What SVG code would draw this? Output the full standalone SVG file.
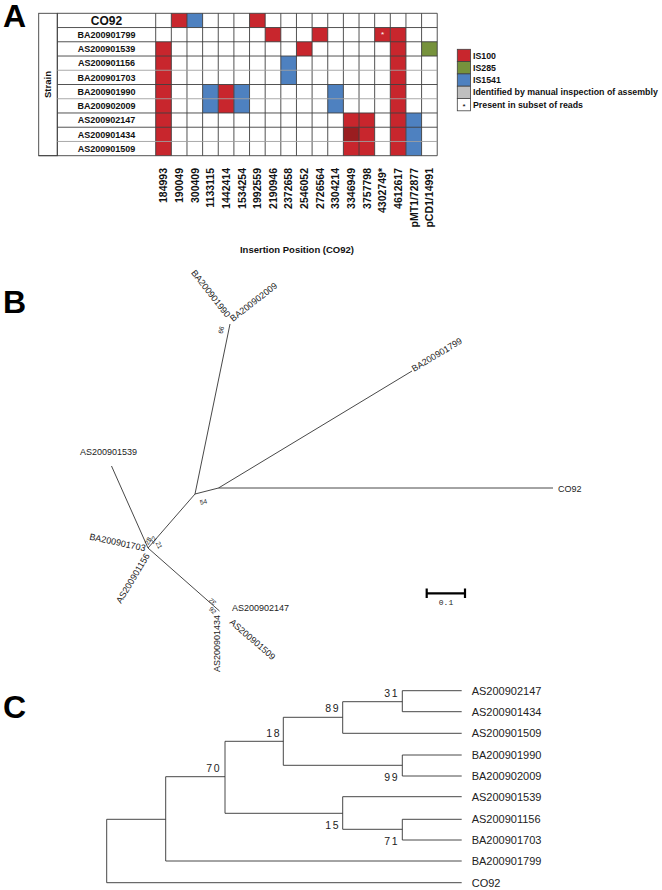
<svg xmlns="http://www.w3.org/2000/svg" width="662" height="890" viewBox="0 0 662 890">
<style>
.pl{font-family:"Liberation Sans",Arial,sans-serif;font-weight:bold;font-size:32px;fill:#000}
.nm{font-family:"Liberation Sans",Arial,sans-serif;font-weight:bold;font-size:9px;fill:#111;text-anchor:middle}
.cl{font-family:"Liberation Sans",Arial,sans-serif;font-weight:bold;font-size:10.5px;fill:#111;text-anchor:end}
.lg{font-family:"Liberation Sans",Arial,sans-serif;font-weight:bold;font-size:8.8px;fill:#111}
.ax{font-family:"Liberation Sans",Arial,sans-serif;font-weight:bold;font-size:9.5px;fill:#111;text-anchor:middle}
.r{fill:#c8262d}.b{fill:#4e81c0}.g{fill:#76923c}.dr{fill:#9a1d20}.gy{fill:#bfbfbf}
.gl{stroke:#404040;stroke-width:0.9;fill:none}
.gl2{stroke:#a0a0a0;stroke-width:0.9;fill:none}
.tl{font-family:"Liberation Sans",Arial,sans-serif;font-size:9px;fill:#222}
.bs{font-family:"Liberation Sans",Arial,sans-serif;font-size:6.5px;fill:#222;text-anchor:middle}
.br{stroke:#333;stroke-width:0.9;fill:none}
.ct{font-family:"Liberation Sans",Arial,sans-serif;font-size:11px;fill:#222}
.cb{font-family:"Liberation Sans",Arial,sans-serif;font-size:10.5px;fill:#222;text-anchor:end;letter-spacing:1.5px}
</style>

<!-- Panel A -->
<g id="panelA">
<text class="pl" x="3" y="27">A</text>
<g id="strain-col">
<rect x="38.7" y="13.3" width="18.6" height="142.4" fill="#fff" stroke="#404040" stroke-width="0.9"/>
<text class="ax" transform="translate(50.5,84.5) rotate(-90)">Strain</text>
</g>
<g id="names">
<text class="nm" x="106.5" y="24.8" style="font-size:12px">CO92</text>
<text class="nm" x="106.5" y="38">BA200901799</text>
<text class="nm" x="106.5" y="52.2">AS200901539</text>
<text class="nm" x="106.5" y="66.4">AS200901156</text>
<text class="nm" x="106.5" y="80.7">BA200901703</text>
<text class="nm" x="106.5" y="94.9">BA200901990</text>
<text class="nm" x="106.5" y="109.2">BA200902009</text>
<text class="nm" x="106.5" y="123.4">AS200902147</text>
<text class="nm" x="106.5" y="137.6">AS200901434</text>
<text class="nm" x="106.5" y="151.9">AS200901509</text>
</g>
<g id="cells" transform="translate(155.7,13.3)">
<rect class="r" x="15.64" y="0" width="15.64" height="14.24"/>
<rect class="b" x="31.28" y="0" width="15.64" height="14.24"/>
<rect class="r" x="93.84" y="0" width="15.64" height="14.24"/>
<rect class="r" x="109.48" y="14.24" width="15.64" height="14.24"/>
<rect class="r" x="156.4" y="14.24" width="15.64" height="14.24"/>
<rect class="r" x="218.96" y="14.24" width="15.64" height="14.24"/>
<rect class="r" x="234.6" y="14.24" width="15.64" height="128.16"/>
<rect class="r" x="0" y="28.48" width="15.64" height="113.92"/>
<rect class="r" x="140.76" y="28.48" width="15.64" height="14.24"/>
<rect class="g" x="265.88" y="28.48" width="15.64" height="14.24"/>
<rect class="b" x="125.12" y="42.72" width="15.64" height="28.48"/>
<rect class="b" x="46.92" y="71.2" width="15.64" height="28.48"/>
<rect class="r" x="62.56" y="71.2" width="15.64" height="28.48"/>
<rect class="b" x="78.2" y="71.2" width="15.64" height="28.48"/>
<rect class="b" x="172.04" y="71.2" width="15.64" height="28.48"/>
<rect class="r" x="187.68" y="99.68" width="31.28" height="42.72"/>
<rect class="dr" x="187.68" y="113.92" width="15.64" height="14.24"/>
<rect class="b" x="250.24" y="99.68" width="15.64" height="42.72"/>
<text x="226.8" y="23.4" font-family="Liberation Sans, Arial, sans-serif" font-size="8" fill="#fff" text-anchor="middle">*</text>
</g>
<g id="grid">
<path class="gl" d="M57.3 13.3V155.7M155.7 13.3V155.7M171.34 13.3V155.7M186.98 13.3V155.7M202.62 13.3V155.7M218.26 13.3V155.7M233.9 13.3V155.7M249.54 13.3V155.7M265.18 13.3V155.7M280.82 13.3V155.7M296.46 13.3V155.7M312.1 13.3V155.7M327.74 13.3V155.7M343.38 13.3V155.7M359.02 13.3V155.7M374.66 13.3V155.7M390.3 13.3V155.7M405.94 13.3V155.7M421.58 13.3V155.7M437.22 13.3V155.7"/>
<path class="gl" d="M57.3 13.3H437.22M57.3 27.54H437.22M57.3 41.78H437.22M57.3 56.02H437.22M57.3 84.5H437.22M57.3 112.98H437.22M57.3 127.22H437.22M38.7 155.7H437.22"/>
<path class="gl2" d="M57.3 70.26H437.22M57.3 98.74H437.22M57.3 141.46H437.22"/>
</g>
<g id="col-labels">
<text class="cl" transform="translate(167.3,168) rotate(-90)">184993</text>
<text class="cl" transform="translate(183,168) rotate(-90)">190049</text>
<text class="cl" transform="translate(198.6,168) rotate(-90)">300409</text>
<text class="cl" transform="translate(214.2,168) rotate(-90)">1133115</text>
<text class="cl" transform="translate(229.9,168) rotate(-90)">1442414</text>
<text class="cl" transform="translate(245.5,168) rotate(-90)">1534254</text>
<text class="cl" transform="translate(261.2,168) rotate(-90)">1992559</text>
<text class="cl" transform="translate(276.8,168) rotate(-90)">2190946</text>
<text class="cl" transform="translate(292.4,168) rotate(-90)">2372658</text>
<text class="cl" transform="translate(308.1,168) rotate(-90)">2546052</text>
<text class="cl" transform="translate(323.7,168) rotate(-90)">2726564</text>
<text class="cl" transform="translate(339.4,168) rotate(-90)">3304214</text>
<text class="cl" transform="translate(355,168) rotate(-90)">3346949</text>
<text class="cl" transform="translate(370.6,168) rotate(-90)">3757798</text>
<text class="cl" transform="translate(386.3,168) rotate(-90)">4302749*</text>
<text class="cl" transform="translate(401.9,168) rotate(-90)">4612617</text>
<text class="cl" transform="translate(417.6,168) rotate(-90)">pMT1/72877</text>
<text class="cl" transform="translate(433.2,168) rotate(-90)">pCD1/14991</text>
</g>
<text class="ax" x="297" y="253">Insertion Position (CO92)</text>
<g id="legend">
<rect class="r" x="457.3" y="49.3" width="13.3" height="12.3" stroke="#404040" stroke-width="0.8"/>
<rect class="g" x="457.3" y="61.6" width="13.3" height="12.3" stroke="#404040" stroke-width="0.8"/>
<rect class="b" x="457.3" y="73.9" width="13.3" height="12.3" stroke="#404040" stroke-width="0.8"/>
<rect class="gy" x="457.3" y="86.2" width="13.3" height="12.3" stroke="#404040" stroke-width="0.8"/>
<rect x="457.3" y="98.5" width="13.3" height="12.3" fill="#fff" stroke="#404040" stroke-width="0.8"/>
<text x="464" y="108.5" font-family="Liberation Sans, Arial, sans-serif" font-size="8" fill="#000" text-anchor="middle">*</text>
<text class="lg" x="473" y="58.5">IS100</text>
<text class="lg" x="473" y="70.8">IS285</text>
<text class="lg" x="473" y="83.1">IS1541</text>
<text class="lg" x="473" y="95.4">Identified by manual inspection of assembly</text>
<text class="lg" x="473" y="107.7">Present in subset of reads</text>
</g>
</g>

<!-- Panel B -->
<text class="pl" x="3" y="313">B</text>
<g id="connectorsB">
<path class="br" d="M195 494L230 324"/>
<path class="br" d="M195 494L218.5 488"/>
<path class="br" d="M218.5 488L412 371"/>
<path class="br" d="M218.5 488L553 488"/>
<path class="br" d="M195 494L148 548"/>
<path class="br" d="M148 548L111.5 466"/>
<path class="br" d="M148 548L219.5 611"/>
</g>
<g id="B-BA200901990"><text class="tl" transform="translate(226,318) rotate(52)" text-anchor="end">BA200901990</text></g>
<g id="B-BA200902009"><text class="tl" transform="translate(233,322) rotate(-38)">BA200902009</text></g>
<g id="B-BA200901799"><text class="tl" transform="translate(414,372) rotate(-31)">BA200901799</text></g>
<g id="B-CO92"><text class="tl" x="558" y="492">CO92</text></g>
<g id="B-AS200901539"><text class="tl" x="80" y="455">AS200901539</text></g>
<g id="B-BA200901703"><text class="tl" transform="translate(89,539.5) rotate(12)">BA200901703</text></g>
<g id="B-AS200901156"><text class="tl" transform="translate(121,604) rotate(-59)">AS200901156</text></g>
<g id="B-AS200902147"><text class="tl" x="232" y="610.5">AS200902147</text></g>
<g id="B-AS200901434"><text class="tl" transform="translate(220,672) rotate(-90)">AS200901434</text></g>
<g id="B-AS200901509"><text class="tl" transform="translate(229,623) rotate(41)">AS200901509</text></g>
<g id="B-bootstrap">
<text class="bs" transform="translate(219,329.5) rotate(102)">99</text>
<text class="bs" transform="translate(204,504) rotate(-14)">54</text>
<text class="bs" transform="translate(150,542) rotate(-60)">28</text>
<text class="bs" transform="translate(155,541) rotate(-60)">22</text>
<text class="bs" transform="translate(157,546) rotate(66)">21</text>
<text class="bs" transform="translate(214,600) rotate(-140)">32</text>
<text class="bs" transform="translate(211,612) rotate(45)">92</text>
</g>
<g id="scalebar">
<path d="M426.7 593.3H465M426.7 588.5V598M465 588.5V598" stroke="#000" stroke-width="2.2" fill="none"/>
<text x="446" y="605" font-family="Liberation Mono, monospace" font-size="8" fill="#222" text-anchor="middle">0.1</text>
</g>

<!-- Panel C -->
<text class="pl" x="3" y="718">C</text>
<g id="connectorsC">
<path class="br" d="M461.7 882.7H106.7V819.3H165.7"/>
<path class="br" d="M461.7 861H165.7V776.7H225"/>
<path class="br" d="M342.7 813.3H225V741.3H283.3"/>
<path class="br" d="M402.3 765.3H283.3V717.3H342.7"/>
<path class="br" d="M461.7 733.3H342.7V701.7H402.3"/>
<path class="br" d="M461.7 690.7H402.3V711.7H461.7"/>
<path class="br" d="M461.7 755H402.3V776H461.7"/>
<path class="br" d="M461.7 796.7H342.7V829.3H402.3"/>
<path class="br" d="M461.7 819.3H402.3V840H461.7"/>
</g>
<g id="C-labels">
<g id="C-AS200902147"><text class="ct" x="471.7" y="694.7">AS200902147</text></g>
<g id="C-AS200901434"><text class="ct" x="471.7" y="715.7">AS200901434</text></g>
<g id="C-AS200901509"><text class="ct" x="471.7" y="737.3">AS200901509</text></g>
<g id="C-BA200901990"><text class="ct" x="471.7" y="759">BA200901990</text></g>
<g id="C-BA200902009"><text class="ct" x="471.7" y="780">BA200902009</text></g>
<g id="C-AS200901539"><text class="ct" x="471.7" y="800.7">AS200901539</text></g>
<g id="C-AS200901156"><text class="ct" x="471.7" y="823.3">AS200901156</text></g>
<g id="C-BA200901703"><text class="ct" x="471.7" y="844">BA200901703</text></g>
<g id="C-BA200901799"><text class="ct" x="471.7" y="865">BA200901799</text></g>
<g id="C-CO92"><text class="ct" x="471.7" y="886.7">CO92</text></g>
</g>
<g id="C-bootstrap">
<text class="cb" x="221" y="772">70</text>
<text class="cb" x="281" y="737">18</text>
<text class="cb" x="340" y="712">89</text>
<text class="cb" x="399" y="697">31</text>
<text class="cb" x="399" y="781">99</text>
<text class="cb" x="340" y="829">15</text>
<text class="cb" x="399" y="845">71</text>
</g>
</svg>
